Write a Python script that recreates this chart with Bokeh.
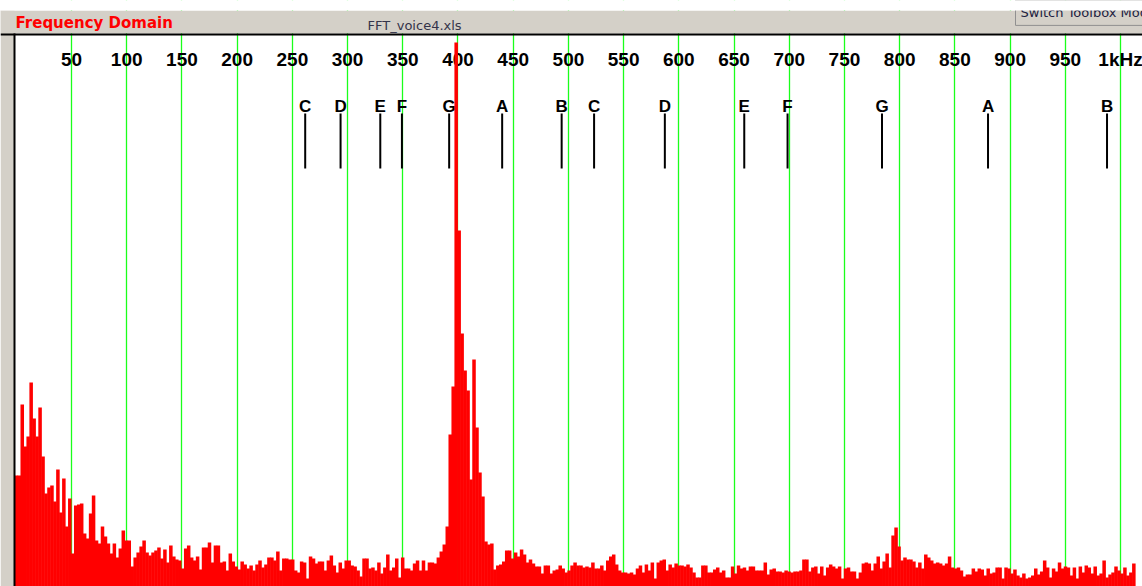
from bokeh.plotting import figure
from bokeh.models import FixedTicker, Label, BoxAnnotation, Span, Range1d
from bokeh.core.properties import value
from bokeh.embed import file_html
from bokeh.resources import INLINE

# ---- data -------------------------------------------------------------
BIN_HZ = 44100 / 16384  # FFT bin spacing (Hz)

magnitude = [
    111, 111, 182, 140, 150, 204, 168, 150, 179, 130,
    93, 99, 101, 85, 117, 74, 108, 60, 88, 33,
    81, 82, 83, 53, 48, 73, 91, 46, 43, 60,
    50, 43, 33, 43, 29, 38, 56, 46, 46, 20,
    29, 34, 40, 46, 34, 31, 34, 36, 39, 28,
    37, 24, 41, 30, 27, 26, 18, 38, 41, 29,
    26, 30, 17, 39, 39, 44, 24, 41, 41, 24,
    25, 16, 33, 25, 20, 17, 25, 22, 18, 21,
    16, 22, 26, 19, 22, 29, 29, 26, 35, 16,
    28, 28, 27, 27, 16, 14, 25, 24, 8, 30,
    28, 23, 25, 25, 16, 26, 31, 21, 14, 24,
    18, 26, 26, 21, 20, 16, 10, 28, 28, 18,
    19, 16, 24, 13, 19, 32, 16, 19, 28, 9,
    29, 18, 18, 16, 23, 26, 16, 26, 16, 24,
    24, 23, 29, 35, 42, 60, 152, 200, 544, 356,
    253, 216, 196, 107, 227, 159, 114, 90, 45, 42,
    43, 17, 21, 22, 25, 36, 36, 28, 34, 30,
    37, 32, 24, 27, 23, 20, 20, 13, 21, 21,
    13, 16, 17, 21, 18, 14, 16, 21, 24, 21,
    21, 19, 20, 19, 24, 18, 18, 21, 16, 26,
    30, 32, 22, 16, 14, 14, 13, 14, 12, 18,
    21, 14, 22, 16, 24, 8, 24, 26, 27, 16,
    22, 19, 23, 21, 21, 20, 22, 19, 14, 9,
    9, 21, 21, 14, 14, 17, 19, 14, 16, 9,
    9, 20, 13, 21, 18, 19, 16, 20, 20, 16,
    16, 16, 24, 12, 17, 18, 15, 15, 14, 16,
    15, 14, 15, 15, 16, 27, 27, 15, 19, 20,
    13, 20, 11, 19, 22, 20, 18, 20, 8, 18,
    19, 15, 15, 8, 14, 23, 24, 23, 16, 23,
    30, 18, 25, 33, 19, 51, 59, 40, 26, 29,
    27, 27, 25, 19, 24, 18, 32, 29, 26, 23,
    24, 23, 21, 23, 30, 19, 18, 19, 16, 10,
    12, 12, 18, 15, 18, 17, 11, 18, 13, 14,
    19, 19, 8, 19, 18, 13, 17, 11, 9, 13,
    8, 9, 11, 18, 12, 15, 26, 19, 9, 18,
    15, 24, 18, 20, 19, 11, 19, 8, 20, 14,
    21, 19, 13, 20, 11, 13, 26, 9, 12, 14,
    20, 16, 13, 19, 11, 14, 23,
]
freqs = [k * BIN_HZ for k in range(len(magnitude))]

tick_values = [50, 100, 150, 200, 250, 300, 350, 400, 450, 500,
               550, 600, 650, 700, 750, 800, 850, 900, 950, 1000]
tick_labels = ["50", "100", "150", "200", "250", "300", "350", "400", "450", "500",
               "550", "600", "650", "700", "750", "800", "850", "900", "950", "1kHz"]

note_names = ["C", "D", "E", "F", "G", "A", "B",
              "C", "D", "E", "F", "G", "A", "B"]
note_freqs = [261.63, 293.66, 329.63, 349.23, 392.00, 440.00, 493.88,
              523.25, 587.33, 659.25, 698.46, 783.99, 880.00, 987.77]

# ---- layout constants ---------------------------------------------------
X_START, X_END = -14.31, 1019.9  # frame covers whole canvas width
PLOT_LEFT = -1.63                # left edge of the white spectrum area
Y_START, Y_END = 0, 586          # frame covers whole canvas height
PLOT_TOP = 552                   # top edge of the white spectrum area
HEADER_TOP = 576                 # white strip above the grey header
TICK_ROW = 527
NOTE_ROW = 480
MARK_LO, MARK_HI = 418, 473

HEADER_GRAY = "#d4d0c8"

p = figure(width=1142, height=586, output_backend="svg", toolbar_location=None,
           x_range=Range1d(X_START, X_END), y_range=Range1d(Y_START, Y_END),
           x_axis_location=None, y_axis_location=None,
           min_border_left=0, min_border_top=0, min_border_right=0, min_border_bottom=0,
           border_fill_color=HEADER_GRAY, background_fill_color="white",
           outline_line_color=None)

p.xgrid.ticker = FixedTicker(ticks=tick_values)
p.xgrid.grid_line_color = "#1aff1a"
p.xgrid.grid_line_width = 1.3
p.ygrid.visible = False

# tick labels inside plot
p.text(x=tick_values, y=[TICK_ROW] * len(tick_values), text=tick_labels,
       text_font=value("Liberation Sans"),
       text_font_size="19px", text_font_style="bold", text_color="black",
       text_align="center", text_baseline="middle")

# note markers
p.segment(x0=note_freqs, y0=[MARK_LO] * len(note_freqs), x1=note_freqs,
          y1=[MARK_HI] * len(note_freqs), line_color="black", line_width=2)
p.text(x=note_freqs, y=[NOTE_ROW] * len(note_freqs), text=note_names,
       text_font=value("Liberation Sans"), text_font_size="17px", text_font_style="bold",
       text_color="black", text_align="center", text_baseline="middle")

# spectrum
p.vbar(x=freqs, width=BIN_HZ + 0.5, bottom=0, top=magnitude,
       fill_color="#ff0000", line_color=None)

# grey strip on the left, grey header band
p.add_layout(BoxAnnotation(right=PLOT_LEFT, top=HEADER_TOP,
                           fill_color=HEADER_GRAY, fill_alpha=1.0, line_color=None))
p.add_layout(BoxAnnotation(bottom=PLOT_TOP + 1, top=HEADER_TOP,
                           fill_color=HEADER_GRAY, fill_alpha=1.0, line_color=None))

# frame border lines (left & top)
p.add_layout(Span(location=PLOT_TOP, dimension="width", line_color="black", line_width=2))
p.segment(x0=[PLOT_LEFT], y0=[Y_START], x1=[PLOT_LEFT], y1=[PLOT_TOP + 1],
          line_color="black", line_width=2, level="overlay")

# header texts
p.add_layout(Label(x=-0.7, y=564, text="Frequency Domain",
                   text_color="#ff0000", text_font="DejaVu Sans", text_font_style="bold",
                   text_font_size="15px", text_baseline="middle"))
p.add_layout(Label(x=318.1, y=561.5, text="FFT_voice4.xls",
                   text_color="#34344a", text_font="DejaVu Sans",
                   text_font_size="13px", text_baseline="middle"))
p.add_layout(Label(x=904.9, y=573.6, text="Switch Toolbox Mode",
                   text_color="#202040", text_font="DejaVu Sans", text_font_size="13px",
                   text_baseline="middle", background_fill_color=HEADER_GRAY,
                   border_line_color="#909090", padding=5))

# white strip at the very top
p.add_layout(BoxAnnotation(bottom=HEADER_TOP, top=Y_END + 10,
                           fill_color="white", fill_alpha=1.0, line_color=None))

open("out.html", "w").write(file_html(p, INLINE))
